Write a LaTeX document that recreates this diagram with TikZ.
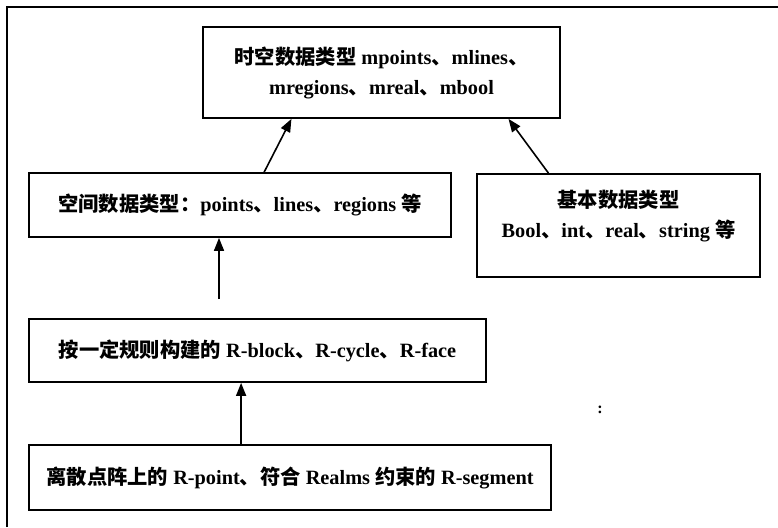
\documentclass[tikz,border=0pt]{standalone}
\usepackage{fontspec}
\setmainfont{Liberation Serif}
\newfontfamily\cjk{Noto Sans CJK SC}
\newcommand{\zh}[1]{{\cjk #1}}
\usetikzlibrary{arrows.meta,calc}
\begin{document}
\begin{tikzpicture}[x=1pt,y=-1pt,
  box/.style={draw, line width=1.8pt, align=center, inner sep=0pt,
    font=\bfseries\fontsize{20.3}{30}\selectfont},
  arr/.style={line width=1.6pt, -{Triangle[length=13pt,width=10pt]}}]
\useasboundingbox (0,0) rectangle (778,527);
\coordinate (fa) at (7,527);
\coordinate (fb) at (7,7);
\coordinate (fc) at (778,7);
\draw[line width=1.5pt] (fa) -- (fb) -- (fc);

\node[box, minimum width=357pt, minimum height=91pt] (b1) at (381.5,72.5)
  {\zh{时空数据类型} mpoints\zh{、}mlines\zh{、}\\mregions\zh{、}mreal\zh{、}mbool};
\node[box, minimum width=422pt, minimum height=64pt] (b2) at (240,205)
  {\zh{空间数据类型：}points\zh{、}lines\zh{、}regions \zh{等}};
\node[box, minimum width=283pt, minimum height=103pt] (b4) at (618.5,225.5)
  {\zh{基本数据类型}\\Bool\zh{、}int\zh{、}real\zh{、}string \zh{等}\rule[-24pt]{0pt}{0pt}};
\node[box, minimum width=457pt, minimum height=63pt] (b3) at (257.5,350.5)
  {\zh{按一定规则构建的} R-block\zh{、}R-cycle\zh{、}R-face};
\node[box, minimum width=522pt, minimum height=65pt] (b5) at (290,477.5)
  {\zh{离散点阵上的} R-point\zh{、符合} Realms \zh{约束的} R-segment};
\node[font=\bfseries\fontsize{16}{16}\selectfont] (colon) at (600,410) {:};

\draw[arr] ($(b2.north west)!0.557!(b2.north east)$) -- ($(b1.south west)!0.249!(b1.south east)$);
\draw[arr] ($(b4.north west)!0.254!(b4.north east)$) -- ($(b1.south west)!0.854!(b1.south east)$);
\coordinate (t1) at (219,299);
\draw[arr] (t1) -- (t1 |- b2.south);
\draw[arr] ($(b5.north west)+(213,0)$) -- ($(b3.south west)+(213,0)$);
\end{tikzpicture}
\end{document}
